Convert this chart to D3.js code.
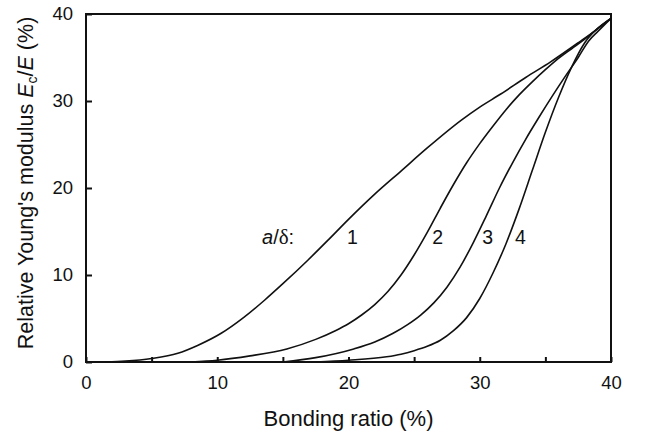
<!DOCTYPE html>
<html>
<head>
<meta charset="utf-8">
<script src="https://cdn.jsdelivr.net/npm/d3@7"></script>
<style>
  html, body { margin: 0; padding: 0; background: #fff; }
  svg { display: block; }
  text { font-family: "Liberation Sans", Arial, Helvetica, sans-serif; fill: #111; }
</style>
</head>
<body>
<svg id="chart" width="646" height="434"></svg>
<script>
// ---- data ----
const xTicks = [0, 5, 10, 15, 20, 25, 30, 35, 40];
const xTickLabels = ["0", "", "10", "", "20", "", "30", "", "40"];
const yTicks = [0, 10, 20, 30, 40];
const yTickLabels = ["0", "10", "20", "30", "40"];

const curveNames = ["1", "2", "3", "4"];
const curve1 = [[1.5,0],[3,0.1],[5,0.4],[7,1.0],[8.5,1.9],[10.3,3.3],[12,5.1],[13.6,7.1],[15,9.0],[16.9,11.7],[18.5,14.1],[20,16.4],[22,19.3],[24,21.95],[26,24.6],[28.6,27.8],[30,29.3],[31.6,30.8],[33.5,32.7],[35.4,34.5],[37.6,36.8],[38.8,38.1],[40,39.5]];
const curve2 = [[8,0],[10,0.2],[12.5,0.7],[15.3,1.5],[17.5,2.6],[19,3.6],[20,4.4],[21,5.4],[22,6.6],[23,8.1],[24,10.0],[25,12.3],[26,14.9],[27,17.7],[28,20.4],[29,22.9],[30,25.1],[31,27.1],[32,29.0],[33,30.7],[34,32.2],[35,33.6],[36,34.9],[37,36.0],[38,37.1],[38.8,38.1],[40,39.5]];
const curve3 = [[15,0],[17.5,0.5],[20.4,1.5],[22,2.3],[23.4,3.3],[24.5,4.3],[25.5,5.4],[26.5,6.8],[27.5,8.6],[28.5,10.9],[29.5,13.7],[30.5,16.8],[31.5,20.0],[32.5,22.9],[33.5,25.6],[34.5,28.1],[35.5,30.5],[36.5,32.8],[37.5,35.0],[38.3,36.9],[39,38.0],[40,39.5]];
const curve4 = [[17.5,0],[20,0.2],[22.9,0.6],[24,0.9],[25,1.3],[26,1.8],[27,2.5],[28,3.6],[29,5.1],[30,7.3],[31,10.2],[32,13.6],[33,17.6],[34,22.0],[35,26.4],[36,30.4],[37,33.9],[38,36.7],[38.8,38.1],[40,39.5]];
const curves = [curve1, curve2, curve3, curve4];
// curve label anchors in data units
const labelX = [20.3, 26.8, 30.6, 33.1];
const labelY = 13.6;

// ---- layout ----
const svg = d3.select("#chart");
const mLeft = 86, mRight = 611, mTop = 14, mBottom = 362;
const x = d3.scaleLinear().domain([0, 40]).range([mLeft, mRight]);
const y = d3.scaleLinear().domain([0, 40]).range([mBottom, mTop]);

// frame
svg.append("rect")
  .attr("x", mLeft).attr("y", mTop)
  .attr("width", mRight - mLeft).attr("height", mBottom - mTop)
  .attr("fill", "none").attr("stroke", "#111").attr("stroke-width", 2);

// x axis
const xAxis = svg.append("g")
  .attr("transform", `translate(0,${mBottom})`)
  .call(d3.axisBottom(x).tickValues(xTicks)
    .tickFormat((d, i) => xTickLabels[i])
    .tickSizeInner(-5).tickSizeOuter(0).tickPadding(14));
xAxis.select(".domain").remove();
xAxis.selectAll("line").attr("stroke", "#111").attr("stroke-width", 2);
xAxis.selectAll("text").attr("font-size", 18.5).attr("font-family", "Liberation Sans, Arial, sans-serif").attr("fill", "#111");

// y axis
const yAxis = svg.append("g")
  .attr("transform", `translate(${mLeft},0)`)
  .call(d3.axisLeft(y).tickValues(yTicks)
    .tickFormat((d, i) => yTickLabels[i])
    .tickSizeInner(-6).tickSizeOuter(0).tickPadding(13));
yAxis.select(".domain").remove();
yAxis.selectAll("line").attr("stroke", "#111").attr("stroke-width", 2);
yAxis.selectAll("text").attr("font-size", 18.5).attr("font-family", "Liberation Sans, Arial, sans-serif").attr("fill", "#111");

// curves
const line = d3.line().x(d => x(d[0])).y(d => y(d[1])).curve(d3.curveMonotoneX);
svg.append("g").selectAll("path").data(curves).join("path")
  .attr("d", line)
  .attr("fill", "none").attr("stroke", "#111").attr("stroke-width", 1.6);

// curve labels
svg.append("g").selectAll("text").data(curveNames).join("text")
  .attr("x", (d, i) => x(labelX[i])).attr("y", y(labelY))
  .attr("text-anchor", "middle").attr("font-size", 19.5)
  .text(d => d);

const ad = svg.append("text").attr("x", 262).attr("y", y(labelY)).attr("font-size", 20);
ad.append("tspan").attr("font-style", "italic").text("a");
ad.append("tspan").text("/");
ad.append("tspan").attr("font-family", "Liberation Serif, Times New Roman, serif").attr("font-size", 21).text("δ");
ad.append("tspan").text(":");

// axis titles
svg.append("text")
  .attr("x", x(20)).attr("y", 426)
  .attr("text-anchor", "middle").attr("font-size", 22)
  .text("Bonding ratio (%)");

const yt = svg.append("text")
  .attr("transform", "translate(33,183) rotate(-90)")
  .attr("text-anchor", "middle").attr("font-size", 21.5);
yt.append("tspan").text("Relative Young's modulus ");
yt.append("tspan").attr("font-style", "italic").text("E");
yt.append("tspan").attr("font-size", 14).attr("dy", 4).text("c");
yt.append("tspan").attr("dy", -4).text("/");
yt.append("tspan").attr("font-style", "italic").text("E");
yt.append("tspan").text(" (%)");
</script>
</body>
</html>
